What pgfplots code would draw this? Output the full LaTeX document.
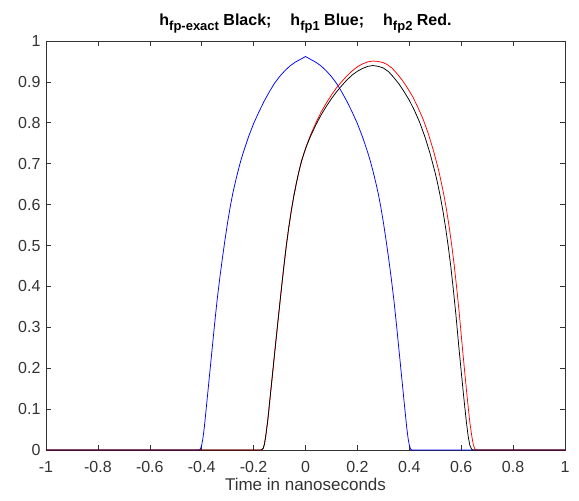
\documentclass[border=0pt]{standalone}
\usepackage{pgfplots}
\pgfplotsset{compat=1.18}
\usepackage{fontspec}
\setmainfont{Liberation Sans}
\newcommand{\sub}[1]{\raisebox{-5pt}{\fontsize{13}{15}\selectfont #1}}
\begin{document}
\begin{tikzpicture}
\begin{axis}[
  width=519pt, height=409pt, scale only axis,
  xmin=-1, xmax=1, ymin=0, ymax=1,
  xtick={-1,-0.8,...,1.01}, ytick={0,0.1,...,1.01},
  tick align=inside, major tick length=5pt,
  axis line style={black!80, line width=0.6pt},
  tick style={black!80, line width=0.6pt},
  ticklabel style={font=\fontsize{16}{19}\selectfont, text=black!80},
  xticklabel style={yshift=-8pt},
  yticklabel style={xshift=-2pt},
  /pgf/number format/assume math mode=true,
  /pgf/number format/fixed,
  xlabel={Time in nanoseconds},
  xlabel style={font=\fontsize{17}{20}\selectfont, text=black!80, yshift=2pt},
  title={\bfseries h\sub{fp-exact} Black;\hspace{19pt}h\sub{fp1} Blue;\hspace{19pt}h\sub{fp2} Red.},
  title style={font=\fontsize{16}{19}\selectfont, at={(0.5,1)}, anchor=south, yshift=-2pt},
  clip=true,
]
\addplot[blue, line width=0.75pt] coordinates {
(-1,0) (-0.41,0) (-0.405,0.002) (-0.40,0.012) (-0.395,0.03) (-0.39,0.055) (-0.38,0.118) (-0.37,0.182) (-0.36,0.246) (-0.35,0.31) (-0.34,0.37) (-0.33,0.422) (-0.32,0.47) (-0.31,0.515) (-0.30,0.557) (-0.29,0.595) (-0.28,0.628) (-0.27,0.656) (-0.26,0.682) (-0.25,0.706) (-0.24,0.727) (-0.22,0.765) (-0.20,0.798) (-0.18,0.826) (-0.16,0.852) (-0.14,0.875) (-0.12,0.896) (-0.10,0.913) (-0.08,0.927) (-0.06,0.939) (-0.04,0.948) (-0.02,0.955) (0,0.962)
(0.02,0.955) (0.04,0.948) (0.06,0.939) (0.08,0.927) (0.10,0.913) (0.12,0.896) (0.14,0.875) (0.16,0.852) (0.18,0.826) (0.20,0.798) (0.22,0.765) (0.24,0.727) (0.25,0.706) (0.26,0.682) (0.27,0.656) (0.28,0.628) (0.29,0.595) (0.30,0.557) (0.31,0.515) (0.32,0.47) (0.33,0.422) (0.34,0.37) (0.35,0.31) (0.36,0.246) (0.37,0.182) (0.38,0.118) (0.39,0.055) (0.395,0.03) (0.40,0.012) (0.405,0.002) (0.41,0) (1,0)
};
\addplot[red, line width=0.75pt] coordinates {
(-1,0) (-0.17,0) (-0.163,0.004) (-0.158,0.015) (-0.153,0.035) (-0.145,0.075) (-0.135,0.137) (-0.125,0.199) (-0.115,0.261) (-0.105,0.322) (-0.095,0.382) (-0.085,0.44) (-0.075,0.494) (-0.065,0.542) (-0.055,0.584) (-0.045,0.621) (-0.035,0.653) (-0.025,0.682) (-0.015,0.707) (-0.005,0.727)
(0.005,0.746) (0.02,0.771) (0.04,0.8) (0.06,0.826) (0.08,0.848) (0.10,0.868) (0.12,0.886) (0.14,0.901) (0.16,0.915) (0.18,0.927) (0.20,0.937) (0.22,0.944) (0.24,0.949) (0.26,0.951) (0.28,0.95) (0.30,0.947)
(0.313,0.943) (0.333,0.934) (0.353,0.92) (0.373,0.904) (0.393,0.885) (0.413,0.864) (0.433,0.838) (0.453,0.809) (0.473,0.774) (0.493,0.732) (0.513,0.684) (0.523,0.655) (0.533,0.624) (0.543,0.589) (0.553,0.548) (0.563,0.503) (0.573,0.452) (0.583,0.394) (0.593,0.331) (0.603,0.261) (0.613,0.194) (0.623,0.129) (0.633,0.069) (0.641,0.033) (0.647,0.012) (0.653,0.002) (0.658,0) (1,0)
};
\addplot[black, line width=0.75pt] coordinates {
(-1,0) (-0.17,0) (-0.163,0.004) (-0.158,0.015) (-0.153,0.035) (-0.145,0.075) (-0.135,0.137) (-0.125,0.199) (-0.115,0.261) (-0.105,0.322) (-0.095,0.382) (-0.085,0.44) (-0.075,0.494) (-0.065,0.542) (-0.055,0.584) (-0.045,0.621) (-0.035,0.653) (-0.025,0.682) (-0.015,0.707) (-0.005,0.727)
(0.005,0.745) (0.02,0.768) (0.04,0.795) (0.06,0.819) (0.08,0.84) (0.10,0.859) (0.12,0.876) (0.14,0.891) (0.16,0.905) (0.18,0.917) (0.20,0.926) (0.22,0.933) (0.24,0.938) (0.26,0.94) (0.28,0.938)
(0.30,0.934) (0.32,0.925) (0.34,0.911) (0.36,0.895) (0.38,0.876) (0.40,0.855) (0.42,0.83) (0.44,0.801) (0.46,0.766) (0.48,0.725) (0.50,0.677) (0.51,0.649) (0.52,0.618) (0.53,0.583) (0.54,0.543) (0.55,0.498) (0.56,0.448) (0.57,0.39) (0.58,0.328) (0.59,0.258) (0.60,0.192) (0.61,0.128) (0.62,0.068) (0.627,0.033) (0.633,0.012) (0.64,0.002) (0.645,0) (1,0)
};
\end{axis}
\path ([shift={(-46pt,-50pt)}]current axis.south west) rectangle ([shift={(14pt,41pt)}]current axis.north east);
\end{tikzpicture}
\end{document}
